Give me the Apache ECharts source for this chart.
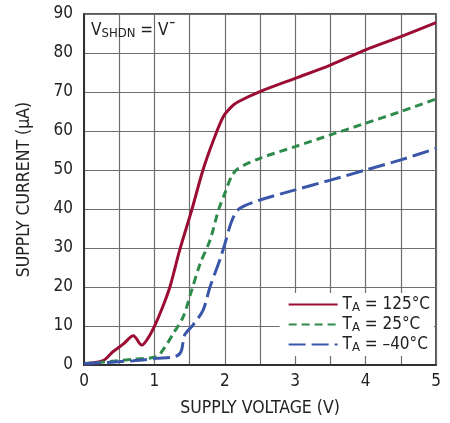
<!DOCTYPE html>
<html>
<head>
<meta charset="utf-8">
<script src="https://cdn.jsdelivr.net/npm/echarts@6/dist/echarts.min.js"></script>
<style>html,body{margin:0;padding:0;background:#fff}#c{width:450px;height:423px}</style>
</head>
<body>
<div id="c"></div>
<script>
var xTicks = [0, 1, 2, 3, 4, 5];
var yTicks = [0, 10, 20, 30, 40, 50, 60, 70, 80, 90];
var seriesNames = ['T_A = 125°C', 'T_A = 25°C', 'T_A = –40°C'];
var redV = [0, 0.27, 0.41, 0.56, 0.70, 0.82, 0.91, 1.01, 1.12, 1.22, 1.36, 1.53, 1.69, 1.84, 1.98, 2.1, 2.19, 2.5, 3.0, 3.5, 4.0, 4.5, 5.0];
var redI = [0.3, 1.1, 3.4, 5.4, 7.5, 5.1, 6.9, 10.3, 15, 20, 29.5, 39.7, 50, 57.7, 63.7, 66.3, 67.5, 70.1, 73.5, 76.9, 80.8, 84.2, 87.8];
var greenV = [0, 0.37, 0.70, 1.03, 1.12, 1.27, 1.41, 1.53, 1.65, 1.79, 1.91, 2.0, 2.1, 2.19, 2.5, 3, 3.5, 4, 4.5, 5];
var greenI = [0.4, 0.9, 1.5, 2.1, 3.8, 8.1, 12.4, 19.2, 26, 32, 39.7, 44, 48.5, 50.4, 53, 56, 59, 62, 65, 68.2];
var blueV = [0, 0.7, 1.03, 1.30, 1.38, 1.43, 1.55, 1.69, 1.79, 1.93, 2.0, 2.1, 2.2, 2.5, 3, 3.5, 4, 4.5, 5];
var blueI = [0.3, 1.1, 1.7, 2.2, 3.5, 7.7, 10.3, 14, 20, 27, 31, 37, 40, 42.3, 44.9, 47.4, 50, 52.6, 55.5];

function pairs(xs, ys) { return xs.map(function (x, i) { return [x, ys[i]]; }); }
var FONT = '"DejaVu Sans Condensed", "Liberation Sans Narrow", "Liberation Sans", sans-serif';
var chart = echarts.init(document.getElementById('c'));
var colors = ['#9c0d34', '#2f8b4b', '#3a56a8'];
chart.setOption({
  animation: false,
  textStyle: { fontFamily: FONT },
  grid: { left: 84, right: 14, top: 14, bottom: 58, show: true, borderColor: '#222', borderWidth: 1.5, backgroundColor: 'transparent' },
  xAxis: {
    type: 'value', min: 0, max: 5, interval: 0.5,
    name: 'SUPPLY VOLTAGE (V)', nameLocation: 'middle', nameGap: 34,
    nameTextStyle: { fontSize: 17.5, color: '#222', fontFamily: FONT },
    axisLine: { show: true, lineStyle: { color: '#222', width: 1.5 } },
    axisTick: { show: false },
    axisLabel: { fontSize: 17, color: '#222', margin: 8, fontFamily: FONT,
      formatter: function (v) { return xTicks.indexOf(v) >= 0 ? String(v) : ''; } },
    splitLine: { show: true, lineStyle: { color: '#6e6e6e', width: 1.2 } }
  },
  yAxis: {
    type: 'value', min: 0, max: 90, interval: 10,
    name: 'SUPPLY CURRENT (µA)', nameLocation: 'middle', nameGap: 51,
    nameTextStyle: { fontSize: 17.5, color: '#222', fontFamily: FONT },
    axisLine: { show: true, lineStyle: { color: '#222', width: 1.5 } },
    axisTick: { show: false },
    axisLabel: { fontSize: 17, color: '#222', margin: 11, fontFamily: FONT,
      formatter: function (v) { return yTicks.indexOf(v) >= 0 ? String(v) : ''; } },
    splitLine: { show: true, lineStyle: { color: '#6e6e6e', width: 1.2 } }
  },
  legend: {
    orient: 'vertical', right: 16, top: 293, itemGap: 2,
    itemWidth: 49, itemHeight: 14,
    padding: [3, 4, 2, 8],
    backgroundColor: '#fff',
    itemStyle: { opacity: 0 },
    data: seriesNames,
    formatter: function (n) {
      var p = n.split('_A');
      return '{a|' + p[0] + '}{s|A}{a|' + p[1] + '}';
    },
    textStyle: {
      rich: {
        a: { fontSize: 17, color: '#222', fontFamily: FONT },
        s: { fontSize: 13, color: '#222', fontFamily: FONT, verticalAlign: 'bottom', padding: [6, 0, 0, 0] }
      }
    }
  },
  graphic: [{
    type: 'text', left: 91, top: 22, z: 10,
    style: {
      text: '{a|V}{s|SHDN}{a| = V¯}',
      rich: {
        a: { fontSize: 17, fill: '#222', fontFamily: FONT },
        s: { fontSize: 13, fill: '#222', fontFamily: FONT, padding: [7, 0, 0, 0] }
      }
    }
  }],
  series: [
    { name: seriesNames[0], type: 'line', data: pairs(redV, redI), smooth: 0.3, symbol: 'none',
      lineStyle: { color: colors[0], width: 3 }, itemStyle: { color: colors[0] } },
    { name: seriesNames[1], type: 'line', data: pairs(greenV, greenI), smooth: 0.3, symbol: 'none',
      lineStyle: { color: colors[1], width: 3, type: [8, 5] }, itemStyle: { color: colors[1] } },
    { name: seriesNames[2], type: 'line', data: pairs(blueV, blueI), smooth: 0.3, symbol: 'none',
      lineStyle: { color: colors[2], width: 3, type: [17, 6] }, itemStyle: { color: colors[2] } }
  ]
});
</script>
</body>
</html>
